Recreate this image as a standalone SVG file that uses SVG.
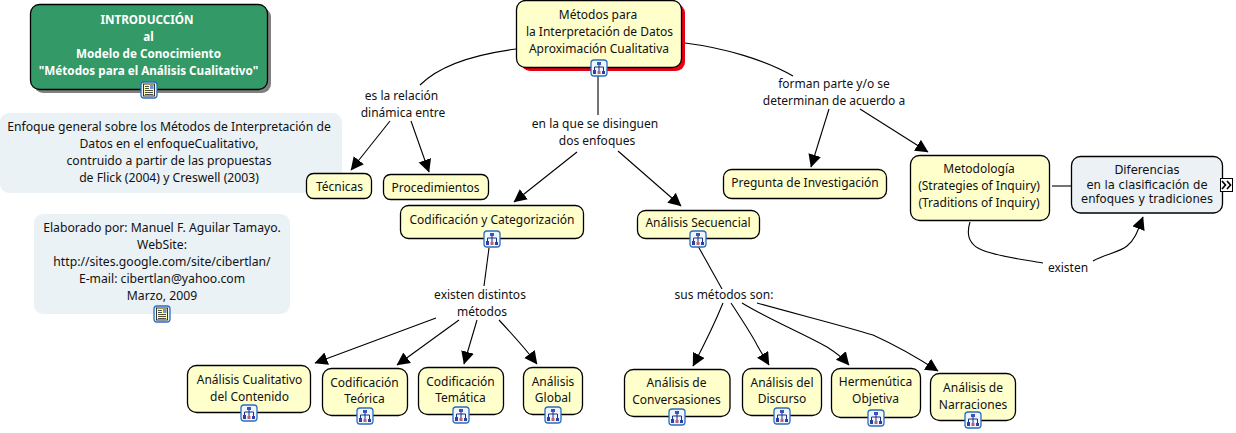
<svg xmlns="http://www.w3.org/2000/svg" width="1236" height="433" viewBox="0 0 1236 433">
<style>
text{font-family:"Noto Sans","Open Sans","DejaVu Sans",sans-serif;font-size:12px;fill:#111;text-anchor:middle}
.n{fill:#ffffcc;stroke:#000;stroke-width:1.3}
.b{fill:#ebf1f5;stroke:#000;stroke-width:1.3}
.p{fill:#ebf2f6}
.c{fill:none;stroke:#000;stroke-width:1.1}
text.w{fill:#fff;font-weight:700;font-size:11.7px}
text.q{font-size:12.2px}
text.v{font-family:"DejaVu Sans",sans-serif;font-size:11.6px}
.ib{fill:#eef5ff;stroke:#2a6cc0;stroke-width:1.3}
.it{fill:none;stroke:#1c2f80;stroke-width:1}
</style>
<defs>
<marker id="a" markerWidth="14" markerHeight="14" refX="12.500" refY="6.500" orient="auto" markerUnits="userSpaceOnUse"><path d="M0 0L13 6.500L0 13Z" fill="#000"/></marker>
<g id="m"><rect class="ib" x="-8" y="-8" width="16" height="16" rx="3"/><path class="it" d="M0-3V0M-4.500 2V-1H4.500V3M0 0V3"/><rect x="-2" y="-6" width="4" height="3" fill="#3b52b8"/><rect x="-6" y="2" width="3" height="4" fill="#2b3fa6"/><rect x="-1.500" y="3" width="3" height="3" fill="#c0606a"/><rect x="3" y="3" width="3" height="3" fill="#2b3fa6"/></g>
<g id="d"><rect class="ib" x="-8" y="-8" width="16" height="16" rx="3"/><rect x="-5.500" y="-6" width="11" height="12" fill="#ffffa8" stroke="#222" stroke-width=".9"/><path d="M-4-3.500H0M-4-1.500H0M-4 .500H4M-4 2.500H4M-4 4.500H4" stroke="#222" stroke-width=".8"/><rect x="1" y="-5" width="3.500" height="4" fill="#7a8fd0"/></g>
</defs>
<g id="connectors">
<path class="c" d="M516 49C470 55 437 68 420 85"/>
<path class="c" d="M685 43C725 48 765 60 793 76"/>
<path class="c" d="M598 74V115"/>
<path class="c" marker-end="url(#a)" d="M390 121L351 170"/>
<path class="c" marker-end="url(#a)" d="M411 121L429 172"/>
<path class="c" marker-end="url(#a)" d="M577 152L514 202"/>
<path class="c" marker-end="url(#a)" d="M618 151L681 206"/>
<path class="c" marker-end="url(#a)" d="M829 109L811 167"/>
<path class="c" marker-end="url(#a)" d="M860 109L928 152"/>
<path class="c" d="M1052 186H1076"/>
<path class="c" d="M970 222C965 238 972 246 982 250C1000 257 1020 259 1043 263"/>
<path class="c" marker-end="url(#a)" d="M1093 261C1105 254 1118 253 1127 246C1135 240 1138 230 1143 217"/>
<path class="c" d="M489 248L484 286"/>
<path class="c" d="M698 246L722 289"/>
<path class="c" marker-end="url(#a)" d="M436 318L315 363"/>
<path class="c" marker-end="url(#a)" d="M459 320L397 365"/>
<path class="c" marker-end="url(#a)" d="M477 320L464 364"/>
<path class="c" marker-end="url(#a)" d="M499 320C513 335 525 348 537 364"/>
<path class="c" marker-end="url(#a)" d="M723 303C714 325 703 347 693 366"/>
<path class="c" marker-end="url(#a)" d="M731 303C742 320 752 335 757 345C762 354 766 360 769 365"/>
<path class="c" marker-end="url(#a)" d="M742 303C770 320 800 332 827 347C835 352 843 358 849 365"/>
<path class="c" marker-end="url(#a)" d="M757 303C800 315 840 325 873 335C895 345 918 358 938 371"/>
</g>
<g id="n-intro"><rect x="34" y="8" width="237" height="85" rx="9" fill="#808080"/><rect x="30.500" y="4.500" width="237" height="85" rx="9" fill="#339966" stroke="#000" stroke-width="1.300"/>
<text class="w" x="147" y="24">INTRODUCCIÓN</text><text class="w" x="148.500" y="41">al</text><text class="w" x="148.500" y="58">Modelo de Conocimiento</text><text class="w" x="148.500" y="75">"Métodos para el Análisis Cualitativo"</text><use href="#d" x="149" y="90"/></g>
<g id="n-main"><rect x="521" y="4" width="164" height="67" rx="9" fill="#e60012"/><rect class="n" x="516.500" y="0.500" width="165" height="67" rx="9"/>
<text x="598" y="19">Métodos para</text><text x="599.500" y="36">la Interpretación de Datos</text><text x="599" y="53">Aproximación Cualitativa</text><use href="#m" x="599" y="68"/></g>
<g id="n-enfoque"><rect class="p" x="0" y="113" width="342" height="80" rx="9"/><text class="q" x="169" y="131">Enfoque general sobre los Métodos de Interpretación de</text><text class="q" x="169" y="148">Datos en el enfoqueCualitativo,</text><text class="q" x="169" y="165">contruido a partir de las propuestas</text><text class="q" x="169" y="182">de Flick (2004) y Creswell (2003)</text></g>
<g id="n-elab"><rect class="p" x="34" y="214" width="256" height="100" rx="9"/><text class="q" x="162" y="232">Elaborado por: Manuel F. Aguilar Tamayo.</text><text class="q" x="162" y="249">WebSite:</text><text class="q" x="162" y="266">http://sites.google.com/site/cibertlan/</text><text class="q" x="162" y="283">E-mail: cibertlan@yahoo.com</text><text class="q" x="162" y="300">Marzo, 2009</text><use href="#d" x="162" y="314"/></g>
<g id="n-tec"><rect class="n" x="306.500" y="173.500" width="65" height="25" rx="7"/><text x="339.500" y="191">Técnicas</text></g>
<g id="n-proc"><rect class="n" x="383.500" y="174.500" width="105" height="25" rx="7"/><text x="435.500" y="192">Procedimientos</text></g>
<g id="n-cod"><rect class="n" x="400.500" y="205.500" width="183" height="33" rx="8"/><text x="492" y="224">Codificación y Categorización</text><use href="#m" x="492" y="239"/></g>
<g id="n-sec"><rect class="n" x="637.500" y="210.500" width="122" height="28" rx="8"/><text x="698" y="227">Análisis Secuencial</text><use href="#m" x="698" y="239"/></g>
<g id="n-preg"><rect class="n" x="723.500" y="169.500" width="163" height="29" rx="8"/><text x="805" y="187">Pregunta de Investigación</text></g>
<g id="n-met"><rect class="n" x="910.500" y="155.500" width="139" height="65" rx="9"/><text x="979" y="173">Metodología</text><text x="979" y="190">(Strategies of Inquiry)</text><text x="979" y="207">(Traditions of Inquiry)</text></g>
<g id="n-dif"><rect class="b" x="1071.500" y="156.500" width="151" height="56.500" rx="9"/><text class="v" x="1147" y="174">Diferencias</text><text class="v" x="1147" y="189">en la clasificación de</text><text class="v" x="1147" y="203">enfoques y tradiciones</text><rect x="1220.500" y="178.500" width="12" height="13" fill="#fff" stroke="#000"/><path d="M1222 181L1225.500 185L1222 189M1227 181L1230.500 185L1227 189" fill="none" stroke="#000" stroke-width="1.700"/></g>
<g id="n-a1"><rect class="n" x="187.500" y="365.500" width="123" height="47" rx="9"/><text x="249.500" y="383.500">Análisis Cualitativo</text><text x="249.500" y="400.500">del Contenido</text><use href="#m" x="249" y="413"/></g>
<g id="n-a2"><rect class="n" x="322.500" y="368.500" width="85" height="47" rx="9"/><text x="364.500" y="386.500">Codificación</text><text x="364.500" y="403">Teórica</text><use href="#m" x="365" y="416"/></g>
<g id="n-a3"><rect class="n" x="418.500" y="367.500" width="85" height="47" rx="9"/><text x="460.500" y="385.500">Codificación</text><text x="460.500" y="402">Temática</text><use href="#m" x="461" y="415"/></g>
<g id="n-a4"><rect class="n" x="523.500" y="367.500" width="59" height="47" rx="9"/><text x="553" y="386">Análisis</text><text x="553" y="402">Global</text><use href="#m" x="553" y="415"/></g>
<g id="n-b1"><rect class="n" x="624.500" y="369.500" width="105.500" height="47" rx="9"/><text x="676.500" y="387">Análisis de</text><text x="676.500" y="404">Conversasiones</text><use href="#m" x="677" y="417"/></g>
<g id="n-b2"><rect class="n" x="742.500" y="368.500" width="79" height="47" rx="9"/><text x="782" y="386.500">Análisis del</text><text x="782" y="403">Discurso</text><use href="#m" x="782" y="416"/></g>
<g id="n-b3"><rect class="n" x="831.500" y="368.500" width="89" height="49" rx="9"/><text x="875.500" y="386">Hermenútica</text><text x="875.500" y="402.500">Objetiva</text><use href="#m" x="876" y="418"/></g>
<g id="n-b4"><rect class="n" x="930.500" y="373.500" width="85" height="47" rx="9"/><text x="973" y="392">Análisis de</text><text x="973" y="409">Narraciones</text><use href="#m" x="973" y="420"/></g>
<g id="labels">
<text x="401.500" y="100">es la relación</text><text x="403" y="117">dinámica entre</text>
<text x="595" y="128">en la que se disinguen</text><text x="597" y="145">dos enfoques</text>
<text x="834" y="88">forman parte y/o se</text><text x="834" y="105">determinan de acuerdo a</text>
<text x="1068" y="272">existen</text>
<text x="480" y="299">existen distintos</text><text x="482" y="316">métodos</text>
<text x="724" y="298.500">sus métodos son:</text>
</g>
</svg>
